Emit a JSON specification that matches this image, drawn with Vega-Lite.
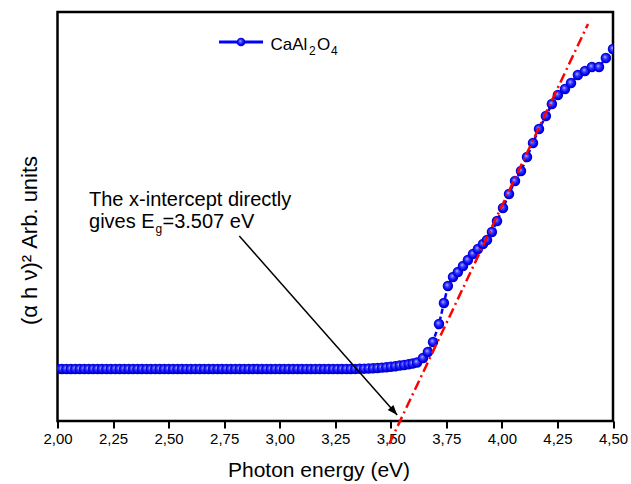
{
  "$schema": "https://vega.github.io/schema/vega-lite/v6.json",
  "width": 555.5,
  "height": 409,
  "autosize": "none",
  "padding": {"left": 57.5, "top": 12, "right": 18, "bottom": 63},
  "background": "white",
  "config": {
    "view": {"stroke": "black", "strokeWidth": 2.5},
    "font": "Liberation Sans",
    "text": {"font": "Liberation Sans", "color": "black"}
  },
  "datasets": {
    "series": [
      {"x": 2.00, "y": 12.71}, {"x": 2.02, "y": 12.71}, {"x": 2.04, "y": 12.71}, {"x": 2.06, "y": 12.71}, {"x": 2.08, "y": 12.71},
      {"x": 2.10, "y": 12.71}, {"x": 2.12, "y": 12.71}, {"x": 2.14, "y": 12.71}, {"x": 2.16, "y": 12.71}, {"x": 2.18, "y": 12.71},
      {"x": 2.20, "y": 12.71}, {"x": 2.22, "y": 12.71}, {"x": 2.24, "y": 12.71}, {"x": 2.26, "y": 12.71}, {"x": 2.28, "y": 12.71},
      {"x": 2.30, "y": 12.71}, {"x": 2.32, "y": 12.71}, {"x": 2.34, "y": 12.71}, {"x": 2.36, "y": 12.71}, {"x": 2.38, "y": 12.71},
      {"x": 2.40, "y": 12.71}, {"x": 2.42, "y": 12.71}, {"x": 2.44, "y": 12.71}, {"x": 2.46, "y": 12.71}, {"x": 2.48, "y": 12.71},
      {"x": 2.50, "y": 12.71}, {"x": 2.52, "y": 12.71}, {"x": 2.54, "y": 12.71}, {"x": 2.56, "y": 12.71}, {"x": 2.58, "y": 12.71},
      {"x": 2.60, "y": 12.71}, {"x": 2.62, "y": 12.71}, {"x": 2.64, "y": 12.71}, {"x": 2.66, "y": 12.71}, {"x": 2.68, "y": 12.71},
      {"x": 2.70, "y": 12.71}, {"x": 2.72, "y": 12.71}, {"x": 2.74, "y": 12.71}, {"x": 2.76, "y": 12.71}, {"x": 2.78, "y": 12.71},
      {"x": 2.80, "y": 12.71}, {"x": 2.82, "y": 12.71}, {"x": 2.84, "y": 12.71}, {"x": 2.86, "y": 12.71}, {"x": 2.88, "y": 12.71},
      {"x": 2.90, "y": 12.71}, {"x": 2.92, "y": 12.71}, {"x": 2.94, "y": 12.71}, {"x": 2.96, "y": 12.71}, {"x": 2.98, "y": 12.71},
      {"x": 3.00, "y": 12.71}, {"x": 3.02, "y": 12.71}, {"x": 3.04, "y": 12.71}, {"x": 3.06, "y": 12.71}, {"x": 3.08, "y": 12.71},
      {"x": 3.10, "y": 12.71}, {"x": 3.12, "y": 12.71}, {"x": 3.14, "y": 12.71}, {"x": 3.16, "y": 12.71}, {"x": 3.18, "y": 12.71},
      {"x": 3.20, "y": 12.71}, {"x": 3.22, "y": 12.71}, {"x": 3.24, "y": 12.71}, {"x": 3.26, "y": 12.71}, {"x": 3.28, "y": 12.71},
      {"x": 3.30, "y": 12.71}, {"x": 3.32, "y": 12.72}, {"x": 3.34, "y": 12.74}, {"x": 3.36, "y": 12.76}, {"x": 3.38, "y": 12.80},
      {"x": 3.40, "y": 12.85}, {"x": 3.42, "y": 12.90}, {"x": 3.44, "y": 12.97}, {"x": 3.46, "y": 13.05}, {"x": 3.48, "y": 13.15},
      {"x": 3.50, "y": 13.27}, {"x": 3.52, "y": 13.40}, {"x": 3.54, "y": 13.55}, {"x": 3.56, "y": 13.70}, {"x": 3.58, "y": 13.88},
      {"x": 3.598, "y": 14.05}, {"x": 3.618, "y": 14.30}, {"x": 3.645, "y": 15.40}, {"x": 3.667, "y": 16.87}, {"x": 3.690, "y": 19.32},
      {"x": 3.717, "y": 23.72}, {"x": 3.739, "y": 28.85}, {"x": 3.757, "y": 33.01}, {"x": 3.780, "y": 35.21}, {"x": 3.802, "y": 36.43},
      {"x": 3.825, "y": 37.90}, {"x": 3.847, "y": 39.36}, {"x": 3.870, "y": 40.83}, {"x": 3.892, "y": 42.05}, {"x": 3.915, "y": 43.28},
      {"x": 3.933, "y": 44.25}, {"x": 3.955, "y": 46.21}, {"x": 3.978, "y": 48.90}, {"x": 4.005, "y": 52.08}, {"x": 4.032, "y": 55.50},
      {"x": 4.059, "y": 58.68}, {"x": 4.086, "y": 61.12}, {"x": 4.113, "y": 64.55}, {"x": 4.140, "y": 67.97}, {"x": 4.167, "y": 71.39},
      {"x": 4.198, "y": 74.57}, {"x": 4.225, "y": 77.51}, {"x": 4.252, "y": 79.71}, {"x": 4.284, "y": 81.17}, {"x": 4.311, "y": 82.64},
      {"x": 4.342, "y": 84.60}, {"x": 4.374, "y": 85.57}, {"x": 4.405, "y": 86.55}, {"x": 4.437, "y": 86.55}, {"x": 4.468, "y": 88.75},
      {"x": 4.500, "y": 90.95}
    ],
    "fit": [{"x": 3.4928, "y": -5.62}, {"x": 4.3876, "y": 97.07}],
    "arrow": [{"x": 2.8183, "y": 45.23, "x2": 3.5288, "y2": 1.47}],
    "legendLine": [{"x": 2.727, "y": 92.67, "x2": 2.925}],
    "legendDot": [{"x": 2.826, "y": 92.67}],
    "bigText": [
      {"x": 2.1418, "y": 52.57, "t": "The x-intercept directly"},
      {"x": 2.1418, "y": 47.19, "t": "gives E"},
      {"x": 2.4725, "y": 47.19, "t": "=3.507 eV"}
    ],
    "subText": [
      {"x": 2.441, "y": 45.97, "t": "g"},
      {"x": 3.1319, "y": 89.49, "t": "2"},
      {"x": 3.2309, "y": 89.49, "t": "4"}
    ],
    "legendText": [
      {"x": 2.9586, "y": 90.71, "t": "CaAl"},
      {"x": 3.1679, "y": 90.71, "t": "O"}
    ]
  },
  "layer": [
    {
      "data": {"name": "series"},
      "mark": {"type": "line", "color": "#0000ff", "strokeWidth": 2.5, "strokeDash": [5, 3], "clip": true},
      "encoding": {
        "x": {"field": "x", "type": "quantitative", "scale": {"domain": [2, 4.5], "nice": false, "zero": false},
          "axis": {
            "values": [2, 2.125, 2.25, 2.375, 2.5, 2.625, 2.75, 2.875, 3, 3.125, 3.25, 3.375, 3.5, 3.625, 3.75, 3.875, 4, 4.125, 4.25, 4.375, 4.5],
            "labelExpr": "round(datum.value*4) == datum.value*4 ? replace(format(datum.value, '.2f'), '.', ',') : ''",
            "tickSize": {"condition": {"test": "round(datum.value*4) == datum.value*4", "value": 7}, "value": 4},
            "tickWidth": 2, "tickColor": "black", "domain": false, "grid": false,
            "labelFontSize": 15, "labelColor": "black", "labelFont": "Liberation Sans", "labelPadding": 3,
            "labelOverlap": false, "labelFlush": false,
            "title": "Photon energy (eV)", "titleFontSize": 21, "titleFontWeight": "normal", "titleFont": "Liberation Sans",
            "titleColor": "black", "titleX": 261, "titleY": 55, "titleBaseline": "alphabetic", "titleAlign": "center"
          }},
        "y": {"field": "y", "type": "quantitative", "scale": {"domain": [0, 100], "nice": false, "zero": false},
          "axis": {
            "ticks": false, "labels": false, "domain": false, "grid": false,
            "title": "(α h ν)² Arb. units", "titleFontSize": 22, "titleFontWeight": "normal", "titleFont": "Liberation Sans",
            "titleColor": "black", "titleAngle": -90, "titleX": -16, "titleY": 228, "titleAlign": "center", "titleBaseline": "bottom"
          }}
      }
    },
    {
      "data": {"name": "series"},
      "mark": {"type": "point", "shape": "circle", "size": 110, "filled": true, "clip": true, "opacity": 1, "strokeWidth": 0,
        "fill": {"gradient": "radial", "x1": 0.4, "y1": 0.38, "r1": 0, "x2": 0.5, "y2": 0.5, "r2": 0.55,
          "stops": [{"offset": 0, "color": "#e0e0ff"}, {"offset": 0.25, "color": "#5050ff"}, {"offset": 0.7, "color": "#0000f5"}, {"offset": 1, "color": "#0000a0"}]}},
      "encoding": {
        "x": {"field": "x", "type": "quantitative"},
        "y": {"field": "y", "type": "quantitative"}
      }
    },
    {
      "data": {"name": "fit"},
      "mark": {"type": "line", "color": "#ff0000", "strokeWidth": 2.5, "strokeDash": [10, 4, 2, 4], "clip": false},
      "encoding": {
        "x": {"field": "x", "type": "quantitative"},
        "y": {"field": "y", "type": "quantitative"}
      }
    },
    {
      "data": {"name": "arrow"},
      "mark": {"type": "rule", "color": "black", "strokeWidth": 1.5},
      "encoding": {
        "x": {"field": "x", "type": "quantitative"},
        "y": {"field": "y", "type": "quantitative"},
        "x2": {"field": "x2"},
        "y2": {"field": "y2"}
      }
    },
    {
      "data": {"name": "arrow"},
      "mark": {"type": "point", "shape": "M0,0L-2,-0.75L-2,0.75Z", "size": 100, "filled": true, "fill": "black", "opacity": 1, "strokeWidth": 0, "angle": 48.6},
      "encoding": {
        "x": {"field": "x2", "type": "quantitative"},
        "y": {"field": "y2", "type": "quantitative"}
      }
    },
    {
      "data": {"name": "legendLine"},
      "mark": {"type": "rule", "color": "#0000ff", "strokeWidth": 3},
      "encoding": {
        "x": {"field": "x", "type": "quantitative"},
        "x2": {"field": "x2"},
        "y": {"field": "y", "type": "quantitative"}
      }
    },
    {
      "data": {"name": "legendDot"},
      "mark": {"type": "point", "shape": "circle", "size": 75, "filled": true, "opacity": 1, "strokeWidth": 0,
        "fill": {"gradient": "radial", "x1": 0.4, "y1": 0.38, "r1": 0, "x2": 0.5, "y2": 0.5, "r2": 0.55,
          "stops": [{"offset": 0, "color": "#e0e0ff"}, {"offset": 0.25, "color": "#5050ff"}, {"offset": 0.7, "color": "#0000f5"}, {"offset": 1, "color": "#0000a0"}]}},
      "encoding": {
        "x": {"field": "x", "type": "quantitative"},
        "y": {"field": "y", "type": "quantitative"}
      }
    },
    {
      "data": {"name": "bigText"},
      "mark": {"type": "text", "fontSize": 20, "align": "left", "baseline": "alphabetic", "color": "black"},
      "encoding": {
        "x": {"field": "x", "type": "quantitative"},
        "y": {"field": "y", "type": "quantitative"},
        "text": {"field": "t"}
      }
    },
    {
      "data": {"name": "legendText"},
      "mark": {"type": "text", "fontSize": 17, "align": "left", "baseline": "alphabetic", "color": "black"},
      "encoding": {
        "x": {"field": "x", "type": "quantitative"},
        "y": {"field": "y", "type": "quantitative"},
        "text": {"field": "t"}
      }
    },
    {
      "data": {"name": "subText"},
      "mark": {"type": "text", "fontSize": 12, "align": "left", "baseline": "alphabetic", "color": "black"},
      "encoding": {
        "x": {"field": "x", "type": "quantitative"},
        "y": {"field": "y", "type": "quantitative"},
        "text": {"field": "t"}
      }
    }
  ]
}
